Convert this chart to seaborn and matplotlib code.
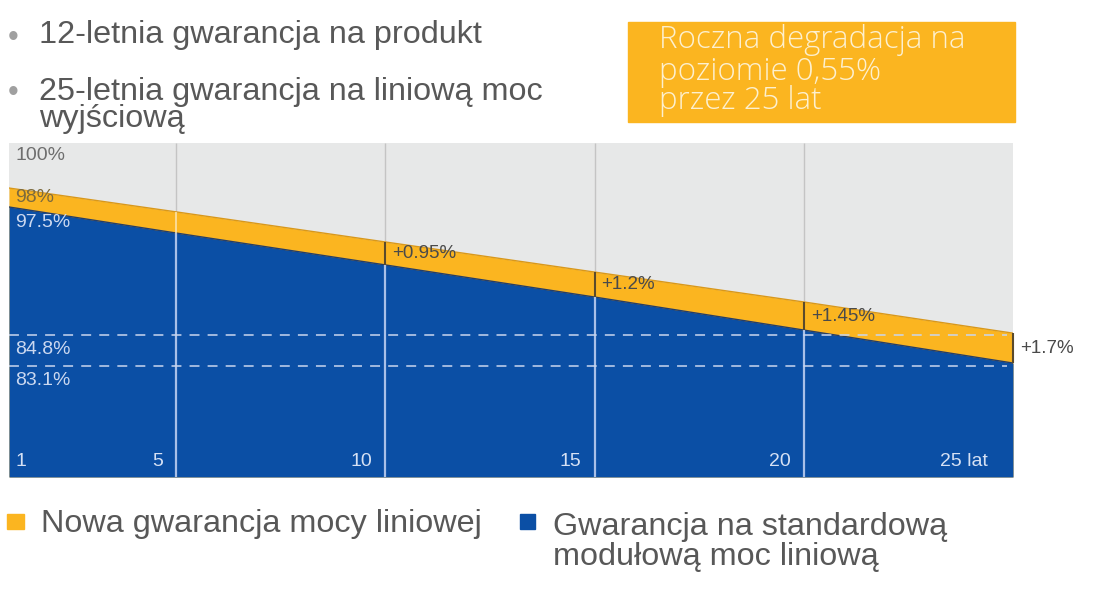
import matplotlib
matplotlib.use("Agg")
import matplotlib.pyplot as plt
import matplotlib.transforms as mtransforms
from matplotlib.patches import Rectangle
import seaborn as sns

# Levels (the original drawing is schematic, not to scale)
years = [1, 5, 10, 15, 20, 25]
new_top = [92.86, 91.55, 89.90, 88.25, 86.61, 84.90]   # nowa gwarancja (orange)
std_top = [91.82, 90.39, 88.64, 86.88, 85.07, 83.26]   # standardowa gwarancja (blue)

gap_years = [10, 15, 20, 25]
gap_labels = ["+0.95%", "+1.2%", "+1.45%", "+1.7%"]

ref_levels = [84.8, 83.1]
ref_labels = ["84.8%", "83.1%"]

tick_years = [1, 5, 10, 15, 20, 25]
tick_labels = ["1", "5", "10", "15", "20", "25 lat"]

bullets = ["12-letnia gwarancja na produkt",
           "25-letnia gwarancja na liniową moc\nwyjściową"]
box_lines = ["Roczna degradacja na", "poziomie 0,55%", "przez 25 lat"]
legend_labels = ["Nowa gwarancja mocy liniowej",
                 "Gwarancja na standardową\nmodułową moc liniową"]

ORANGE = "#fbb520"
BLUE = "#0b4fa5"
GREY = "#e7e8e8"
LIGHT = "#cbd8f0"
TXT = "#585858"

W, H = 1094, 606


def fx(x):
    return x / W


def fy(y):
    return 1 - y / H


sns.set_theme(style="white")
plt.rcParams["font.family"] = ["Liberation Sans", "DejaVu Sans"]

fig = plt.figure(figsize=(W / 100, H / 100), dpi=100)
fig.patch.set_facecolor("white")

ax = fig.add_axes([fx(9), fy(477), 1004 / W, 334 / H])
ax.set_xlim(1, 25)
ax.set_ylim(77.01, 95.33)
ax.set_facecolor(GREY)
floor, ceil = ax.get_ylim()

# areas
ax.fill_between(years, floor, new_top, color=ORANGE, lw=0, zorder=1)
ax.fill_between(years, floor, std_top, color=BLUE, lw=0, zorder=2)
sns.lineplot(x=years, y=new_top, ax=ax, color="#d9981a", lw=1, zorder=3)
sns.lineplot(x=years, y=std_top, ax=ax, color="#263e68", lw=1, zorder=3)

# vertical year lines
for yr in [5, 10, 15, 20]:
    i = years.index(yr)
    ax.vlines(yr, new_top[i], ceil, color="#c4c4c4", lw=1, zorder=0.5)
    ax.vlines(yr, floor, std_top[i], color="#a9c0e8", lw=1.6, zorder=3)
    if yr not in gap_years:
        ax.vlines(yr, std_top[i], new_top[i], color="#fbe2a8", lw=1.2, zorder=3)

# dashed reference levels
ax.hlines(ref_levels, 1, 24.85, colors="#c9d6ee", linestyles=(0, (5.5, 4.5)),
          lw=1.3, alpha=0.85, zorder=4)

# gap ticks + labels
for yr, lab in zip(gap_years, gap_labels):
    i = years.index(yr)
    ax.vlines(yr, std_top[i], new_top[i], color="#5a4a2c", lw=1.5,
              zorder=5, clip_on=False)
    mid = (std_top[i] + new_top[i]) / 2
    ax.annotate(lab, (yr, mid), xytext=(5, 0), textcoords="offset points",
                ha="left", va="center", fontsize=13.5, color="#4a4a4a",
                annotation_clip=False, zorder=6)

# left side value labels
left = mtransforms.blended_transform_factory(ax.transAxes, ax.transData)
ax.annotate("100%", (0.006, ceil), xycoords=left, xytext=(0, -9),
            textcoords="offset points", va="center", fontsize=14, color="#6e6e6e")
ax.annotate("98%", (0.006, new_top[0]), xycoords=left, xytext=(0, -6.5),
            textcoords="offset points", va="center", fontsize=14, color="#7c6a3e", zorder=6)
ax.annotate("97.5%", (0.006, std_top[0]), xycoords=left, xytext=(0, -11),
            textcoords="offset points", va="center", fontsize=14, color=LIGHT, zorder=6)
for lvl, lab in zip(ref_levels, ref_labels):
    ax.annotate(lab, (0.006, lvl), xycoords=left, xytext=(0, -10.5),
                textcoords="offset points", va="center", fontsize=14,
                color=LIGHT, zorder=6)

# year labels along the bottom
bottom = mtransforms.blended_transform_factory(ax.transData, ax.transAxes)
for yr, lab in zip(tick_years, tick_labels):
    if yr == tick_years[0]:
        off, ha = 4.5, "left"
    elif yr == tick_years[-1]:
        off, ha = -18, "right"
    else:
        off, ha = -9.5, "right"
    ax.annotate(lab, (yr, 0), xycoords=bottom, xytext=(off, 11),
                textcoords="offset points", ha=ha, va="center",
                fontsize=14, color="#d6e1f4", zorder=6)

ax.set_xticks([])
ax.set_yticks([])
for s in ax.spines.values():
    s.set_visible(False)

# header bullets
fig.text(fx(13), fy(38), "•", fontsize=22, color="#a0a0a0", ha="center", va="center")
fig.text(fx(39), fy(43), bullets[0], fontsize=23.3, color=TXT, va="baseline")
fig.text(fx(13), fy(93), "•", fontsize=22, color="#a0a0a0", ha="center", va="center")
fig.text(fx(39), fy(127), bullets[1], fontsize=23.3, color=TXT, va="baseline",
         linespacing=0.85)

# orange info box
fig.patches.append(Rectangle((fx(628), fy(122)), (1015 - 628) / W, 100 / H,
                             transform=fig.transFigure, color=ORANGE, zorder=0))
for txt, base in zip(box_lines, [48, 80, 109]):
    fig.text(fx(659), fy(base), txt, fontsize=22.5, color="#fdf0cf",
             va="baseline", family=["Open Sans", "DejaVu Sans"], fontweight="light")

# legend
fig.patches.append(Rectangle((fx(7), fy(529)), 17 / W, 15 / H,
                             transform=fig.transFigure, color=ORANGE))
fig.text(fx(41), fy(532), legend_labels[0], fontsize=23.3, color=TXT, va="baseline")
fig.patches.append(Rectangle((fx(520), fy(529)), 15 / W, 15 / H,
                             transform=fig.transFigure, color=BLUE))
fig.text(fx(553), fy(565), legend_labels[1], fontsize=23.3, color=TXT, va="baseline",
         linespacing=1.0)

fig.savefig("out.png", dpi=100, facecolor="white")
